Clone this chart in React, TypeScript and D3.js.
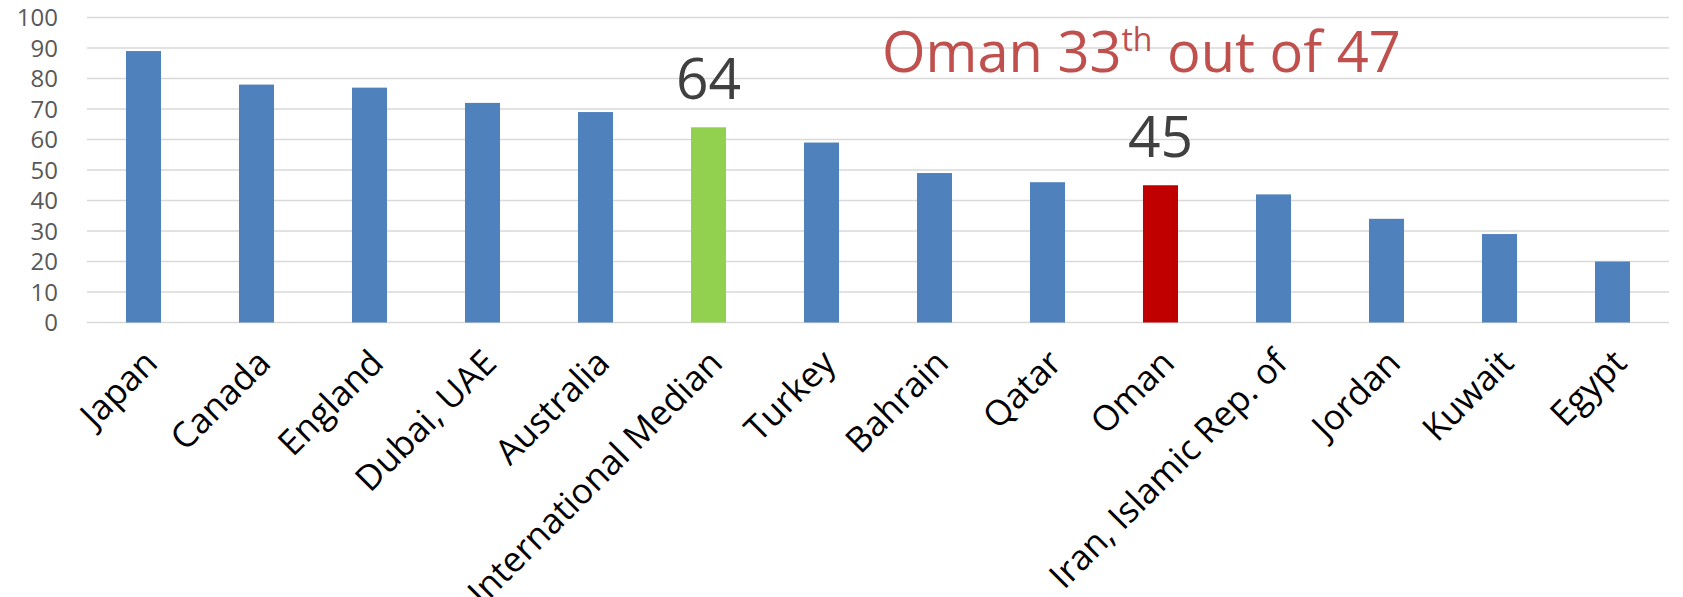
import React from 'react';
import * as d3 from 'd3';

// chart data
const countries = [
  'Japan', 'Canada', 'England', 'Dubai, UAE', 'Australia', 'International Median',
  'Turkey', 'Bahrain', 'Qatar', 'Oman', 'Iran, Islamic Rep. of', 'Jordan', 'Kuwait', 'Egypt'
];
const scores = [89, 78, 77, 72, 69, 64, 59, 49, 46, 45, 42, 34, 29, 20];
const yTicks = [0, 10, 20, 30, 40, 50, 60, 70, 80, 90, 100];
const highlights: Record<string, string> = {
  'International Median': '#92D050',
  'Oman': '#C00000',
};
const labelled = ['International Median', 'Oman'];

const W = 1683;
const H = 597;
const FONT = '"Open Sans", "DejaVu Sans", sans-serif';

export default function App() {
  const margin = { top: 17.5, left: 87, right: W - 1669, bottom: H - 322.5 };

  const x = d3.scaleBand<string>()
    .domain(countries)
    .range([margin.left, W - margin.right])
    .paddingInner(0.69)
    .paddingOuter(0.345);

  const y = d3.scaleLinear()
    .domain([0, 100])
    .range([H - margin.bottom, margin.top]);

  const bw = x.bandwidth();

  return (
    <svg
      width={W}
      height={H}
      style={{ position: 'absolute', left: 0, top: 0, display: 'block', background: '#fff' }}
      fontFamily={FONT}
    >
      {/* gridlines */}
      {yTicks.map(t => (
        <line key={'g' + t} x1={margin.left} x2={W - margin.right}
          y1={y(t)} y2={y(t)} stroke="#D9D9D9" strokeWidth={1.5} />
      ))}

      {/* y labels */}
      {yTicks.map(t => (
        <text key={'yl' + t} x={58} y={y(t)} dy="0.36em" textAnchor="end"
          fontSize={24} fill="#595959">{t}</text>
      ))}

      {/* bars */}
      {countries.map((c, i) => (
        <rect key={c} x={x(c)} y={y(scores[i])} width={bw}
          height={y(0) - y(scores[i])}
          fill={highlights[c] || '#4F81BD'} />
      ))}

      {/* value labels on highlighted bars */}
      {countries.map((c, i) => labelled.includes(c) ? (
        <text key={'v' + c} x={(x(c) as number) + bw / 2} y={y(scores[i]) - 28}
          textAnchor="middle" fontSize={57} fill="#404040">{scores[i]}</text>
      ) : null)}

      {/* category labels, rotated */}
      {countries.map(c => {
        const cx = (x(c) as number) + bw / 2 + 16;
        const cy = 365;
        return (
          <text key={'xl' + c} x={cx} y={cy} textAnchor="end" fontSize={35}
            fill="#000" transform={`rotate(-45, ${cx}, ${cy})`}>{c}</text>
        );
      })}

      {/* annotation */}
      <text x={882} y={71.5} fontSize={56} fill="#C0504D">
        Oman 33<tspan fontSize={32} dy={-21}>th</tspan>
        <tspan dy={21}> out of 47</tspan>
      </text>
    </svg>
  );
}
